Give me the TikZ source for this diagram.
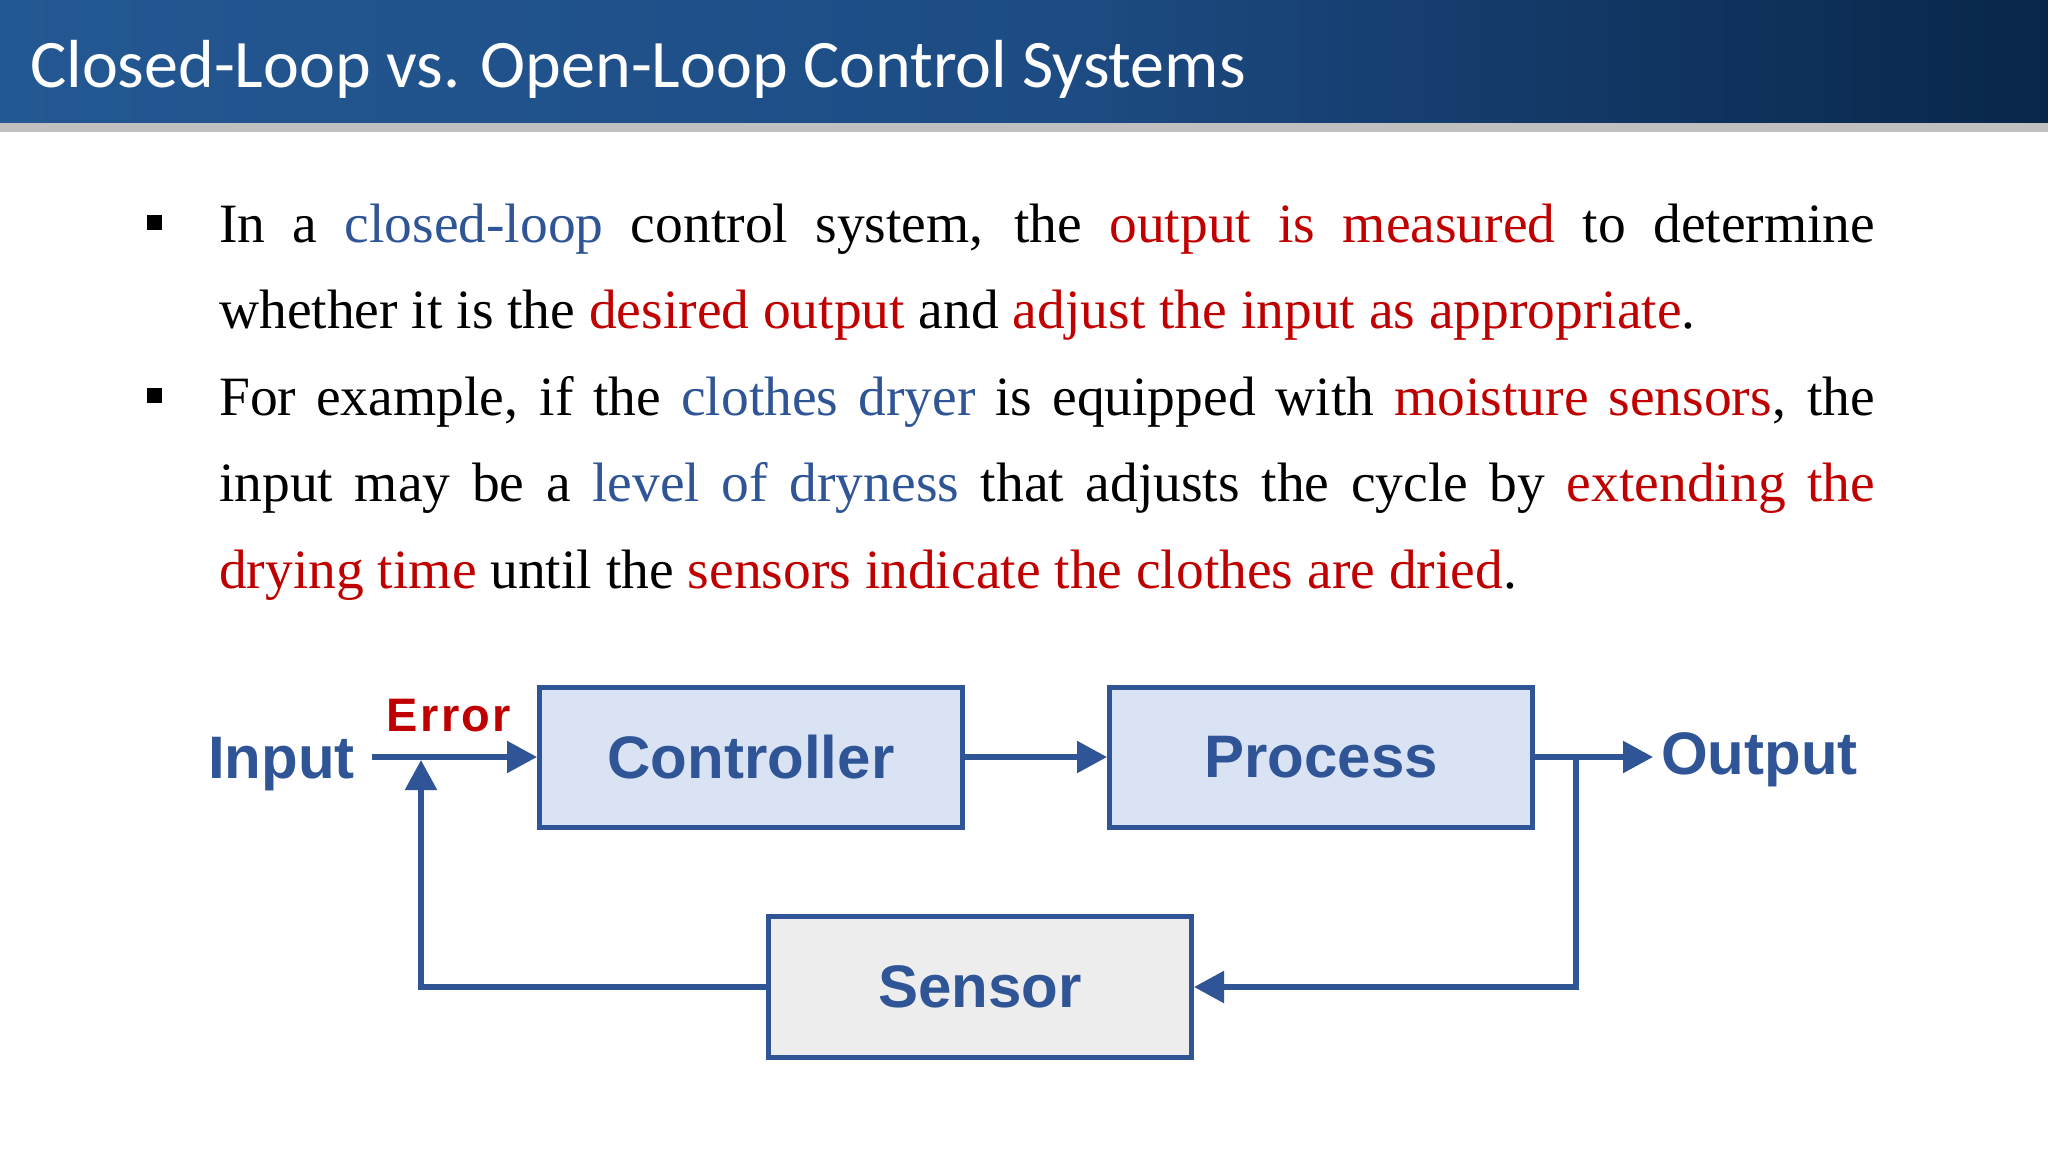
\documentclass[tikz,border=0pt]{standalone}
\usepackage{fontspec}
\setmainfont{Liberation Serif}
\newfontfamily\titlefont{Carlito}
\newfontfamily\diagfont{Liberation Sans}
\newfontfamily\errfont{Liberation Sans}[LetterSpace=5]
\usepackage{xcolor}
\usepackage{tikz}
\usetikzlibrary{arrows.meta,positioning}

\definecolor{barleft}{RGB}{36,88,146}
\definecolor{barmid}{RGB}{29,76,132}
\definecolor{barright}{RGB}{9,38,74}
\definecolor{ruleg}{RGB}{192,192,192}
\definecolor{ctrlblue}{RGB}{47,85,151}
\definecolor{errred}{RGB}{192,0,0}
\definecolor{boxblue}{RGB}{218,227,243}
\definecolor{boxgray}{RGB}{237,237,237}

\newcommand{\hlb}[1]{\textcolor{ctrlblue}{#1}}
\newcommand{\hlr}[1]{\textcolor{errred}{#1}}

\begin{document}
\begin{tikzpicture}[x=1pt, y=-1pt,
    blockbox/.style={draw=ctrlblue, line width=5pt, fill=boxblue, minimum width=423pt, minimum height=140pt, inner sep=0pt, text=ctrlblue, font=\diagfont\bfseries\fontsize{60}{70}\selectfont},
    sigtext/.style={text=ctrlblue, inner sep=0pt, font=\diagfont\bfseries\fontsize{60}{70}\selectfont},
    errtext/.style={text=errred, inner sep=0pt, font=\errfont\bfseries\fontsize{47}{55}\selectfont},
    flow/.style={draw=ctrlblue, line width=5.5pt, -{Triangle[length=30pt,width=31pt]}},
    bodytext/.style={inner sep=0pt, anchor=base west, font=\fontsize{55.5}{86.5}\selectfont},
    bulletmark/.style={fill=black, minimum size=15pt, inner sep=0pt}]
    \useasboundingbox (0,0) rectangle (2048,1152);
    \fill[white] (0,0) rectangle (2048,1152);

    % title bar
    \shade[left color=barleft, right color=barmid] (0,0) rectangle (1051,123);
    \shade[left color=barmid, right color=barright] (1050,0) rectangle (2048,123);
    \fill[ruleg] (0,123) rectangle (2048,132);
    \node[anchor=base west, inner sep=0pt, text=white, font=\titlefont\fontsize{68}{80}\selectfont] (title) at (30,87) {Closed-Loop vs. Open-Loop Control Systems};

    % bullets
    \node[bulletmark] (dot1) at (154.5,222.5) {};
    \node[bulletmark] (dot2) at (154.5,395.5) {};
    \node[bodytext] (para1) at (219,242) {\parbox[t]{1656pt}{\hyphenpenalty=10000\exhyphenpenalty=10000
      In a \hlb{closed-loop} control system, the \hlr{output is measured} to determine\linebreak
      whether it is the \hlr{desired output} and \hlr{adjust the input as appropriate}.}};
    \node[bodytext] (para2) at (219,415) {\parbox[t]{1656pt}{\hyphenpenalty=10000\exhyphenpenalty=10000
      For example, if the \hlb{clothes dryer} is equipped with \hlr{moisture sensors}, the\linebreak
      input may be a \hlb{level of dryness} that adjusts the cycle by \hlr{extending the}\linebreak
      \hlr{drying time} until the \hlr{sensors indicate the clothes are dried}.}};

    % loop
    \node[blockbox] (ctrl) at (751,757) {Controller};
    \node[blockbox, right=142pt of ctrl] (proc) {Process};
    \node[blockbox, fill=boxgray, minimum height=141pt] (sensor) at (980,987) {Sensor};
    \coordinate (sum) at (421,757);
    \coordinate (fbtip) at (421,760);
    \coordinate (branch) at (1576,757);
    \node[sigtext, anchor=base east, inner xsep=17pt] (input) at (372,778) {Input};
    \node[sigtext, anchor=base west, inner xsep=8pt] (output) at (1653,774) {Output};
    \node[errtext, anchor=base] (err) at (449,731) {Error};

    \draw[flow] (input.east |- sum) -- (ctrl.west);
    \draw[flow] (ctrl) -- (proc);
    \draw[flow] (proc) -- (output.west |- proc.east);
    \draw[flow] (branch) |- (sensor.east);
    \draw[flow] (sensor.west) -| (fbtip);
\end{tikzpicture}
\end{document}
